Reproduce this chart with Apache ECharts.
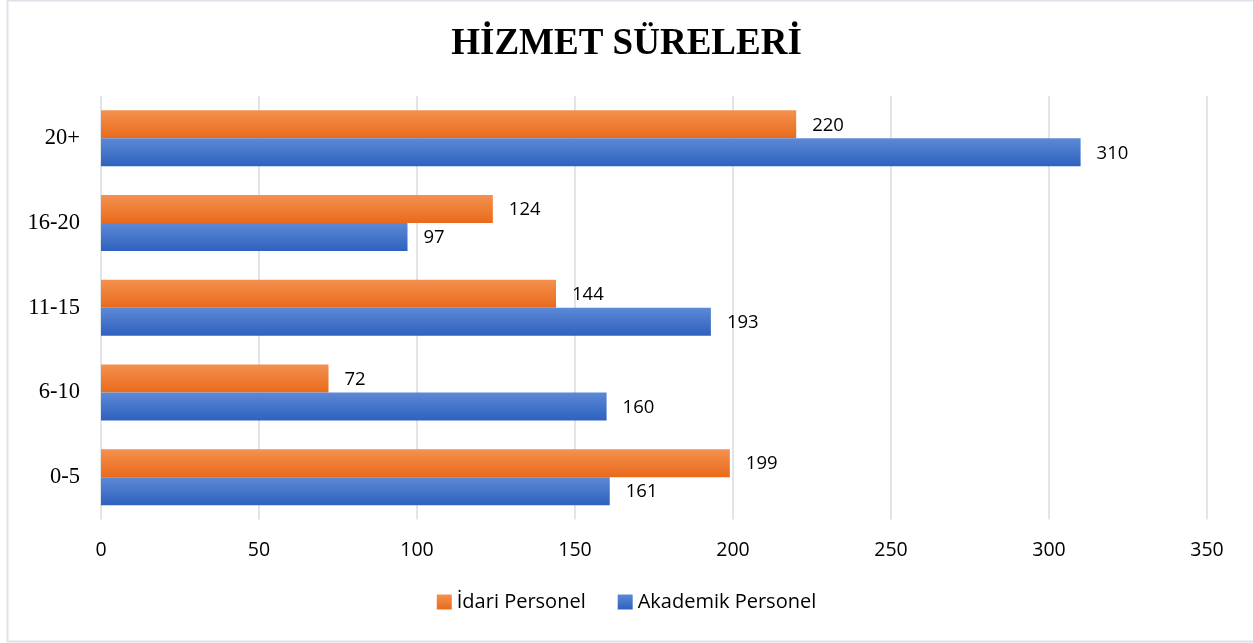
<!DOCTYPE html>
<html><head><meta charset="utf-8">
<script src="https://cdn.jsdelivr.net/npm/echarts@6/dist/echarts.min.js"></script>
<style>html,body{margin:0;padding:0;background:#fff}#c{width:1253px;height:643px}</style>
</head><body><div id="c"></div>
<script>
const categories = ['0-5', '6-10', '11-15', '16-20', '20+'];
const idari = [199, 72, 144, 124, 220];
const akademik = [161, 160, 193, 97, 310];
const xTicks = { min: 0, max: 350, interval: 50 };

const chart = echarts.init(document.getElementById('c'), null, {renderer: 'canvas'});
const grad = (a, b) => new echarts.graphic.LinearGradient(0, 0, 0, 1, [{offset: 0, color: a}, {offset: 1, color: b}]);
const lbl = {show: true, position: 'right', distance: 16, color: '#000', fontSize: 18.5, fontFamily: 'Open Sans'};
chart.setOption({
  animation: false,
  backgroundColor: '#fff',
  title: {text: 'HİZMET SÜRELERİ', left: 'center', top: 21,
    textStyle: {fontFamily: 'Liberation Serif', fontWeight: 'bold', fontSize: 37, color: '#000'}},
  graphic: [{type: 'rect', shape: {x: 7.5, y: 0.5, width: 1250, height: 641}, style: {fill: 'none', stroke: '#dde2e8', lineWidth: 2}, silent: true, z: -1}],
  legend: {bottom: 26, left: 'center', itemWidth: 15, itemHeight: 15, itemGap: 32,
    icon: 'rect', textStyle: {fontFamily: 'Open Sans', fontSize: 20, color: '#000'},
    data: ['İdari Personel', 'Akademik Personel']},
  grid: {left: 101, right: 46, top: 96, bottom: 123.5, containLabel: false},
  xAxis: {type: 'value', min: xTicks.min, max: xTicks.max, interval: xTicks.interval,
    axisLine: {show: false}, axisTick: {show: false},
    axisLabel: {margin: 21, fontSize: 19.5, fontFamily: 'Open Sans', color: '#000'},
    splitLine: {lineStyle: {color: '#e1e5ea', width: 2}}},
  yAxis: {type: 'category', data: categories,
    axisLine: {show: false}, axisTick: {show: false},
    axisLabel: {margin: 21, fontSize: 22.5, fontFamily: 'Liberation Serif', color: '#000'}},
  series: [
    {name: 'İdari Personel', type: 'bar', data: idari, barWidth: 28, barGap: '0%',
      itemStyle: {color: grad('#f4914f', '#e96a1b')}, label: {...lbl, offset: [0, 1]}},
    {name: 'Akademik Personel', type: 'bar', data: akademik, barWidth: 28, barGap: '0%',
      itemStyle: {color: grad('#5d89d5', '#2e61bf')}, label: {...lbl, offset: [0, 1]}}
  ]
});
</script></body></html>
